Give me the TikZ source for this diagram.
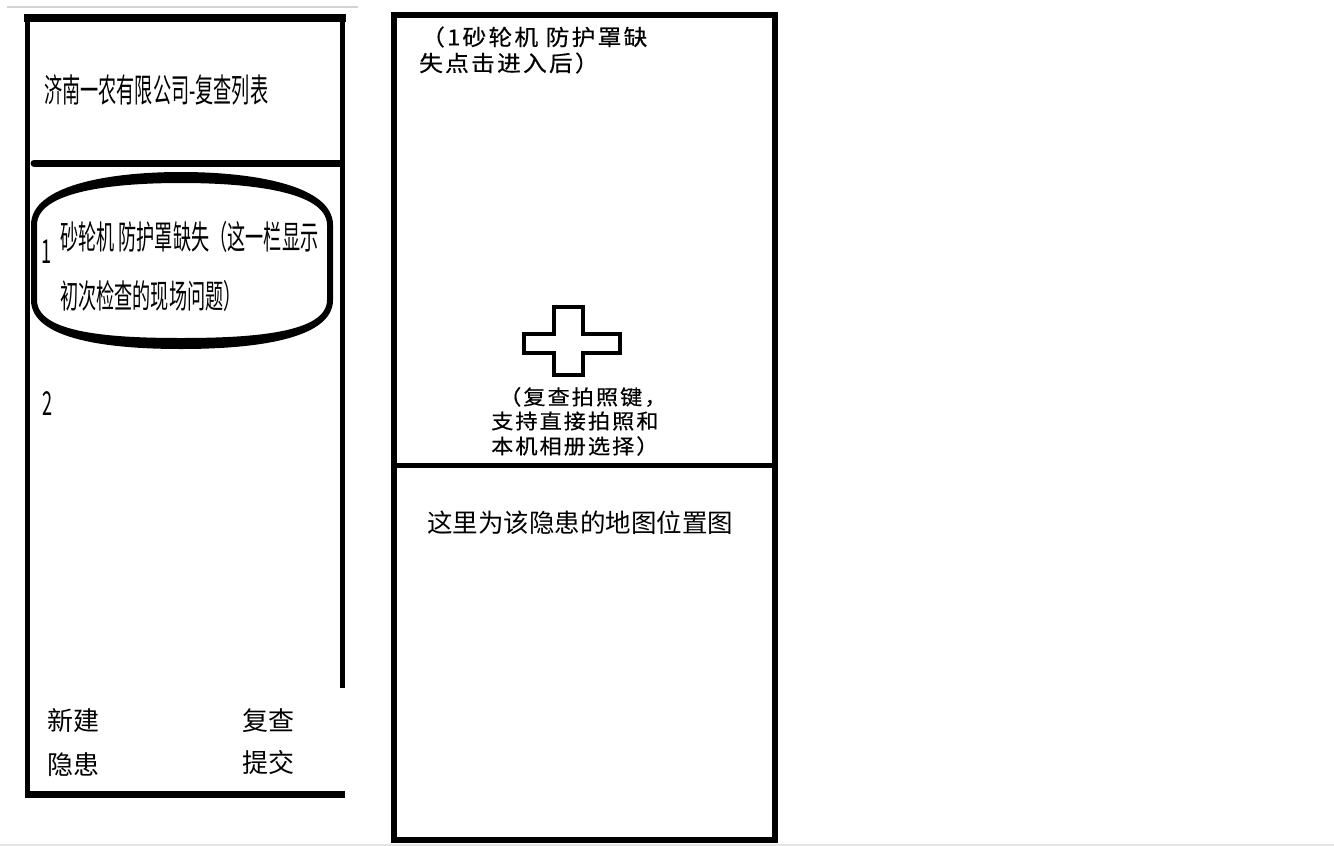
\documentclass[tikz,border=0pt]{standalone}
\usepackage{fontspec}
\newfontfamily\cjk{Noto Sans CJK SC}
\newfontfamily\cjknarrow[FakeStretch=0.55]{Noto Sans CJK SC}
\newfontfamily\cjkspaced[FakeStretch=1.08, LetterSpace=10, FakeBold=0.5]{Noto Sans CJK SC}
\usetikzlibrary{positioning}

\tikzset{
  narrow/.style={font=\cjknarrow\fontsize{33}{40}\selectfont, inner sep=0pt, anchor=west},
  note/.style={font=\cjk\fontsize{#1}{#1}\selectfont, inner sep=0pt, anchor=west},
  spaced/.style={font=\cjkspaced\fontsize{#1}{#1}\selectfont, inner sep=0pt, anchor=west},
}

\begin{document}
\begin{tikzpicture}[x=1pt, y=-1pt]
  \useasboundingbox (0,0) rectangle (1334,846);
  \fill[white] (0,0) rectangle (1334,846);

  % Left screen: review list
  \draw[gray!35, line width=1.5pt] (7,7) -- (358,7);
  \draw[line width=8pt] (24,18) -- (346,18);
  \draw[line width=5pt] (27.5,14) -- (27.5,798);
  \draw[line width=5pt] (342.5,14) -- (342.5,688);
  \draw[line width=7pt] (25,794.5) -- (345,794.5);
  \draw[line width=7pt, line cap=round] (34,163) -- (341,163);

  % Ring round the first item (thick top and bottom)
  \fill[even odd rule]
    (31,225) -- (31,300) .. controls (31,340) and (110,349) .. (181,349)
      .. controls (252,349) and (333,340) .. (333,300) -- (333,225)
      .. controls (333,185) and (252,172) .. (181,172)
      .. controls (110,172) and (31,185) .. (31,225) -- cycle
    (37,225) -- (37,300) .. controls (37,333) and (110,338) .. (181,338)
      .. controls (252,338) and (327,333) .. (327,300) -- (327,225)
      .. controls (327,192) and (252,183) .. (181,183)
      .. controls (110,183) and (37,192) .. (37,225) -- cycle;

  \node[narrow] (title) at (44,90) {济南一农有限公司-复查列表};
  \node[narrow] (num1) at (41,252) {1};
  \node[narrow] (item1a) at (60,237) {砂轮机 防护罩缺失（这一栏显示};
  \node[narrow] (item1b) at ([yshift=-59pt]item1a.west) {初次检查的现场问题）};
  \node[narrow] (num2) at (42,404) {2};

  % Buttons
  \node[note=26] (newa) at (47,721) {新建};
  \node[note=26] (newb) at ([yshift=-44pt]newa.west) {隐患};
  \node[note=26] (suba) at (242,721) {复查};
  \node[note=26] (subb) at ([yshift=-42pt]suba.west) {提交};

  % Right screen: photo and map
  \draw[line width=6.5pt] (394,15) rectangle (775,840);
  \draw[line width=5pt] (394,465) -- (775,465);

  \node[spaced=22] (hint1) at (421,37) {（1砂轮机 防护罩缺};
  \node[spaced=22] (hint2) at (419,63) {失点击进入后）};

  % Camera key
  \draw[line width=4pt, line join=miter] (554,307) -- (583,307) -- (583,334) -- (620,334)
    -- (620,353) -- (583,353) -- (583,375) -- (554,375) -- (554,353) -- (524,353)
    -- (524,334) -- (554,334) -- cycle;
  \node[spaced=20.5] (cam1) at (499,397) {（复查拍照键，};
  \node[spaced=20.5] (cam2) at (491,421) {支持直接拍照和};
  \node[spaced=20.5] (cam3) at ([yshift=-25pt]cam2.west) {本机相册选择）};

  \node[note=25.5] (map) at (427,523) {这里为该隐患的地图位置图};

  \draw[gray!20, line width=1.5pt] (0,845) -- (1334,845);
\end{tikzpicture}
\end{document}
